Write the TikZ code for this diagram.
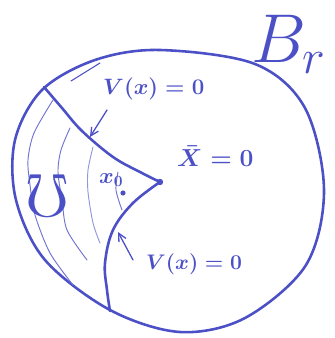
\documentclass[tikz,border=0pt]{standalone}
\usepackage{fix-cm}
\usepackage{amssymb}
\usetikzlibrary{arrows.meta}
\definecolor{ink}{RGB}{76,80,198}

\begin{document}
\begin{tikzpicture}[
    x=0.03cm, y=-0.03cm,
    rim/.style={draw=ink, line width=2.2pt, line join=round, line cap=round},
    faint/.style={draw=ink!80, line width=0.8pt, line cap=round},
    pointer/.style={draw=ink, line width=1.1pt, line cap=round, -{Straight Barb[length=2.4mm, width=2.4mm]}},
    lbl/.style={text=ink, inner sep=0pt, anchor=base west}
]
\useasboundingbox (0,0) rectangle (334,338);
% the ball
\draw[rim] plot[smooth cycle, tension=0.55] coordinates {
    (160,50) (255,64) (305,108) (324,190) (306,265) (245,318) (180,332)
    (110,310) (45,260) (16,200) (15,140) (42,90) (95,60)};
\draw[rim, line width=0.9pt] (100,63) -- (71,81);
% the two level curves meeting at the cusp
\coordinate (cusp) at (160,182);
\draw[rim] plot[smooth, tension=0.6] coordinates {(44,87) (62,108) (82,131) (113,157) (140,172) (cusp)};
\draw[rim] plot[smooth, tension=0.6] coordinates {(cusp) (133,203) (113,230) (105,263) (107,290) (110,311)};
\fill[ink] (cusp) circle (3.2);
% thin arcs inside U
\draw[faint] plot[smooth] coordinates {(53,100) (34,133) (28,160) (30,185) (35,215) (50,253) (73,285)};
\draw[faint] plot[smooth] coordinates {(70,128) (61,150) (58,172) (62,200) (67,230) (87,260)};
\draw[faint, draw=ink!60] plot[smooth] coordinates {(93,147) (88,170) (88,192) (93,223) (100,243)};
\draw[faint] plot[smooth] coordinates {(118,172) (116,190) (122,210)};
% labels
\node[lbl, font=\fontsize{59}{59}\selectfont] (br) at (251,63) {$B_r$};
\node[lbl, font=\fontsize{19}{22}\selectfont\boldmath] (vtop) at (103,94) {$V(x)=0$};
\node[lbl, font=\fontsize{21}{24}\selectfont\boldmath] (xbar) at (177,166) {$\bar{X}=0$};
\node[lbl, font=\fontsize{19}{22}\selectfont\boldmath] (xzero) at (99,183) {$x_0$};
\fill[ink] (123,193) circle (2.6);
\node[lbl, font=\fontsize{52}{52}\selectfont\boldmath] (uset) at (25,216) {$\mho$};
\node[lbl, font=\fontsize{18}{21}\selectfont\boldmath] (vbot) at (146,269) {$V(x)=0$};
% pointers to the level curves
\coordinate (uptail) at (107,110);
\coordinate (uphead) at (90,137);
\coordinate (lowtail) at (133,260);
\coordinate (lowhead) at (118,232);
\draw[pointer] (uptail) -- (uphead);
\draw[pointer] (lowtail) -- (lowhead);
\end{tikzpicture}
\end{document}
